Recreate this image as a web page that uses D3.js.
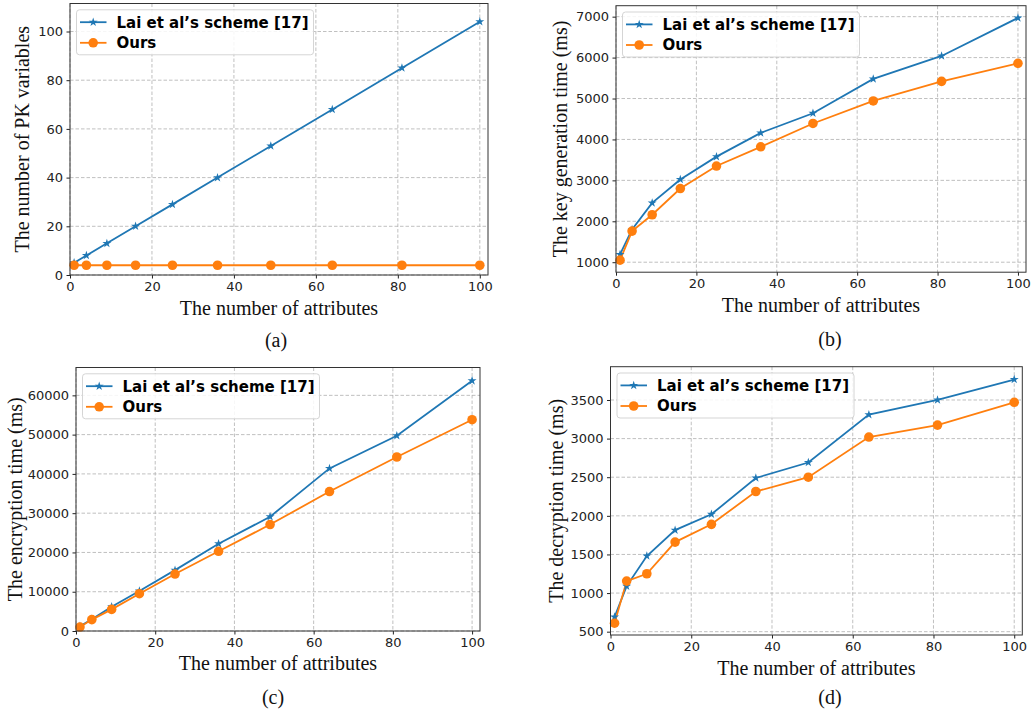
<!DOCTYPE html>
<html>
<head>
<meta charset="utf-8">
<script src="https://cdn.jsdelivr.net/npm/d3@7"></script>
<style>
  body { margin: 0; background: #fff; }
  svg { display: block; }
</style>
</head>
<body>
<svg id="chart" width="1031" height="711"></svg>
<script>
// number of attributes (shared x values)
var attrs = [1, 4, 9, 16, 25, 36, 49, 64, 81, 100];
var seriesNames = ["Lai et al\u2019s scheme [17]", "Ours"];

// (a) PK variables
var pkLai = [5, 8, 13, 20, 29, 40, 53, 68, 85, 104];
var pkOurs = [4, 4, 4, 4, 4, 4, 4, 4, 4, 4];
// (b) key generation time (ms)
var keyLai = [1190, 1800, 2450, 3020, 3580, 4160, 4640, 5480, 6040, 6970];
var keyOurs = [1050, 1760, 2160, 2800, 3350, 3820, 4390, 4940, 5420, 5860];
// (c) encryption time (ms)
var encLai = [1200, 3000, 6200, 10200, 15500, 22200, 29100, 41400, 49700, 63700];
var encOurs = [1000, 2900, 5500, 9500, 14500, 20300, 27100, 35500, 44300, 53800];
// (d) decryption time (ms)
var decLai = [690, 1090, 1480, 1815, 2020, 2490, 2690, 3310, 3500, 3765];
var decOurs = [610, 1155, 1250, 1660, 1890, 2315, 2500, 3020, 3175, 3470];

var xTicks = [0, 20, 40, 60, 80, 100];
var yTicksA = [0, 20, 40, 60, 80, 100];
var yTicksB = [1000, 2000, 3000, 4000, 5000, 6000, 7000];
var yTicksC = [0, 10000, 20000, 30000, 40000, 50000, 60000];
var yTicksD = [500, 1000, 1500, 2000, 2500, 3000, 3500];

var blue = "#1f77b4", orange = "#ff7f0e";
var serif = "'Liberation Serif', 'Times New Roman', serif";
var sans = "'DejaVu Sans', sans-serif";

var panels = [
  { box: [70, 3.5, 488, 275], ydom: [0, 111.5], yticks: yTicksA, lai: pkLai, ours: pkOurs,
    ylabel: "The number of PK variables", ylx: 22, xly: 308, cap: "(a)", capx: 276, capy: 340 },
  { box: [616, 5.7, 1026, 272.2], ydom: [756, 7268], yticks: yTicksB, lai: keyLai, ours: keyOurs,
    ylabel: "The key generation time (ms)", ylx: 560, xly: 305, cap: "(b)", capx: 830, capy: 339 },
  { box: [76, 367.5, 480, 631], ydom: [0, 67090], yticks: yTicksC, lai: encLai, ours: encOurs,
    ylabel: "The encryption time (ms)", ylx: 15, xly: 663, cap: "(c)", capx: 273, capy: 697 },
  { box: [610.5, 366.7, 1022.3, 635], ydom: [457, 3931], yticks: yTicksD, lai: decLai, ours: decOurs,
    ylabel: "The decryption time (ms)", ylx: 556, xly: 668, cap: "(d)", capx: 830, capy: 697 }
];

var svg = d3.select("#chart");
var star = d3.symbol().type(d3.symbolStar).size(25);

panels.forEach(function (p) {
  var L = p.box[0], T = p.box[1], R = p.box[2], B = p.box[3];
  var x = d3.scaleLinear().domain([0, 102]).range([L, R]);
  var y = d3.scaleLinear().domain(p.ydom).range([B, T]);
  var g = svg.append("g");

  // grid
  g.append("g").selectAll("line").data(xTicks).enter().append("line")
    .attr("x1", d => x(d)).attr("x2", d => x(d)).attr("y1", T).attr("y2", B)
    .attr("stroke", "#b0b0b0").attr("stroke-width", 0.8).attr("stroke-dasharray", "3.5,2");
  g.append("g").selectAll("line").data(p.yticks).enter().append("line")
    .attr("x1", L).attr("x2", R).attr("y1", d => y(d)).attr("y2", d => y(d))
    .attr("stroke", "#b0b0b0").attr("stroke-width", 0.8).attr("stroke-dasharray", "3.5,2");

  // axes
  var xAxis = d3.axisBottom(x).tickValues(xTicks).tickSize(3.5).tickPadding(3.5);
  var yAxis = d3.axisLeft(y).tickValues(p.yticks).tickSize(3.5).tickPadding(3.5).tickFormat(d3.format("d"));
  var gx = g.append("g").attr("transform", "translate(0," + B + ")").call(xAxis);
  var gy = g.append("g").attr("transform", "translate(" + L + ",0)").call(yAxis);
  [gx, gy].forEach(function (a) {
    a.select(".domain").remove();
    a.selectAll("line").attr("stroke", "#222").attr("stroke-width", 1);
    a.selectAll("text").attr("fill", "#222").style("font-family", sans).style("font-size", "13px");
  });

  // series
  var line = d3.line().x((d, i) => x(attrs[i])).y(d => y(d));
  g.append("path").datum(p.lai).attr("d", line)
    .attr("fill", "none").attr("stroke", blue).attr("stroke-width", 1.8);
  g.append("path").datum(p.ours).attr("d", line)
    .attr("fill", "none").attr("stroke", orange).attr("stroke-width", 1.8);
  g.append("g").selectAll("path").data(p.lai).enter().append("path")
    .attr("d", star).attr("fill", blue)
    .attr("transform", (d, i) => "translate(" + x(attrs[i]) + "," + y(d) + ")");
  g.append("g").selectAll("circle").data(p.ours).enter().append("circle")
    .attr("cx", (d, i) => x(attrs[i])).attr("cy", d => y(d)).attr("r", 4.8).attr("fill", orange);

  // frame
  g.append("rect").attr("x", L).attr("y", T).attr("width", R - L).attr("height", B - T)
    .attr("fill", "none").attr("stroke", "#333").attr("stroke-width", 1);

  // legend
  var lg = g.append("g").attr("transform", "translate(" + (L + 6.5) + "," + (T + 6.3) + ")");
  var lbox = lg.append("rect").attr("rx", 3).attr("ry", 3)
    .attr("fill", "#fff").attr("fill-opacity", 0.85).attr("stroke", "#d5d5d5").attr("stroke-width", 1);
  var texts = [];
  seriesNames.forEach(function (name, i) {
    var cy = 12.4 + i * 20.6;
    lg.append("line").attr("x1", 3.5).attr("x2", 30).attr("y1", cy).attr("y2", cy)
      .attr("stroke", i === 0 ? blue : orange).attr("stroke-width", 1.8);
    if (i === 0) {
      lg.append("path").attr("d", star).attr("fill", blue).attr("transform", "translate(16.7," + cy + ")");
    } else {
      lg.append("circle").attr("cx", 16.7).attr("cy", cy).attr("r", 4.8).attr("fill", orange);
    }
    texts.push(lg.append("text").attr("x", 40).attr("y", cy).attr("dy", "0.36em")
      .style("font-family", sans).style("font-weight", "bold").style("font-size", "15px")
      .attr("fill", "#000").text(name));
  });
  var tw = d3.max(texts, t => t.node().getComputedTextLength());
  lbox.attr("x", 0).attr("y", 0).attr("width", 40 + tw + 5).attr("height", 45);

  // axis labels
  g.append("text").attr("x", (L + R) / 2).attr("y", p.xly).attr("dy", "0.35em")
    .attr("text-anchor", "middle").style("font-family", serif).style("font-size", "20px")
    .attr("fill", "#111").text("The number of attributes");
  g.append("text").attr("transform", "translate(" + p.ylx + "," + ((T + B) / 2) + ") rotate(-90)")
    .attr("dy", "0.35em").attr("text-anchor", "middle").style("font-family", serif).style("font-size", "20px")
    .attr("fill", "#111").text(p.ylabel);
  g.append("text").attr("x", p.capx).attr("y", p.capy).attr("dy", "0.35em")
    .attr("text-anchor", "middle").style("font-family", serif).style("font-size", "20px")
    .attr("fill", "#111").text(p.cap);
});
</script>
</body>
</html>
